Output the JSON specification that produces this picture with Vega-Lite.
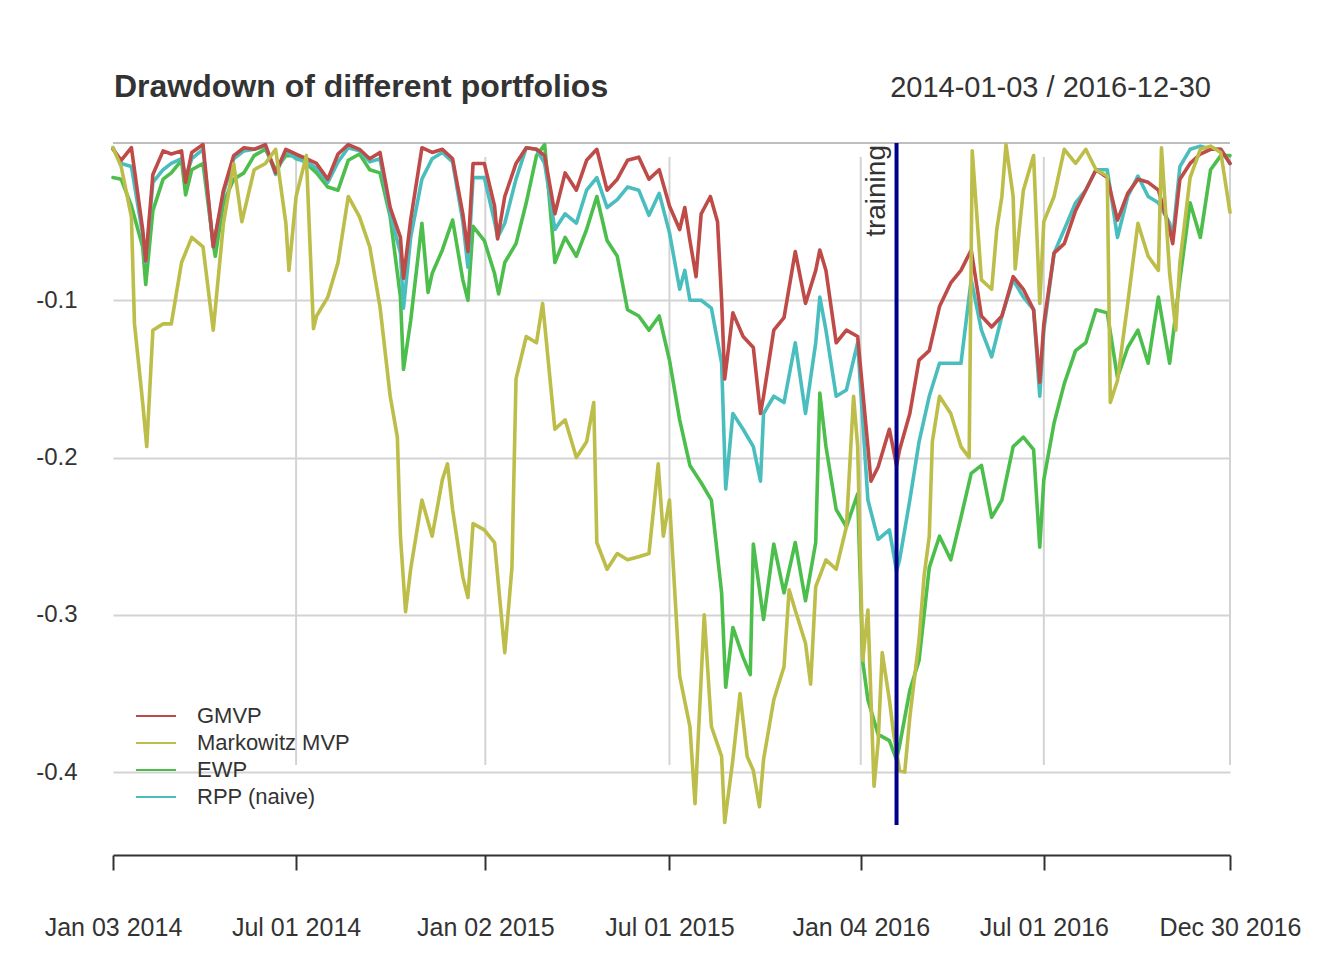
{
  "$schema": "https://vega.github.io/schema/vega-lite/v6.json",
  "width": 1117,
  "height": 682,
  "autosize": {"type": "none"},
  "padding": {"left": 113, "top": 143, "right": 114, "bottom": 135},
  "background": "white",
  "config": {"view": {"stroke": null}, "font": "Liberation Sans"},
  "layer": [
    {
      "data": {"values": [
        {"date": "2014-07-01"}, {"date": "2015-01-02"}, {"date": "2015-07-01"},
        {"date": "2016-01-04"}, {"date": "2016-07-01"}, {"date": "2016-12-30"}
      ]},
      "mark": {"type": "rule", "color": "#d3d3d3", "strokeWidth": 2},
      "encoding": {
        "x": {"field": "date", "type": "temporal", "title": null},
        "y": {"datum": -0.0089},
        "y2": {"datum": -0.3954}
      }
    },
    {
      "data": {"values": [{}]},
      "mark": {"type": "rule", "color": "#a9a9a9", "strokeWidth": 1.5},
      "encoding": {"y": {"datum": 0}}
    },
    {
      "data": {"values": [
        {"date":"2014-01-03","series":"EWP","value":-0.022},{"date":"2014-01-11","series":"EWP","value":-0.023},{"date":"2014-01-21","series":"EWP","value":-0.04},{"date":"2014-02-01","series":"EWP","value":-0.066},{"date":"2014-02-04","series":"EWP","value":-0.09},{"date":"2014-02-11","series":"EWP","value":-0.043},{"date":"2014-02-21","series":"EWP","value":-0.023},{"date":"2014-03-01","series":"EWP","value":-0.019},{"date":"2014-03-11","series":"EWP","value":-0.011},{"date":"2014-03-15","series":"EWP","value":-0.033},{"date":"2014-03-21","series":"EWP","value":-0.017},{"date":"2014-04-01","series":"EWP","value":-0.013},{"date":"2014-04-11","series":"EWP","value":-0.064},{"date":"2014-04-13","series":"EWP","value":-0.072},{"date":"2014-04-21","series":"EWP","value":-0.038},{"date":"2014-05-01","series":"EWP","value":-0.023},{"date":"2014-05-11","series":"EWP","value":-0.019},{"date":"2014-05-21","series":"EWP","value":-0.008},{"date":"2014-06-01","series":"EWP","value":-0.004},{"date":"2014-06-11","series":"EWP","value":-0.017},{"date":"2014-06-21","series":"EWP","value":-0.008},{"date":"2014-07-01","series":"EWP","value":-0.008},{"date":"2014-07-11","series":"EWP","value":-0.013},{"date":"2014-07-21","series":"EWP","value":-0.019},{"date":"2014-08-01","series":"EWP","value":-0.028},{"date":"2014-08-11","series":"EWP","value":-0.03},{"date":"2014-08-21","series":"EWP","value":-0.011},{"date":"2014-09-01","series":"EWP","value":-0.007},{"date":"2014-09-11","series":"EWP","value":-0.017},{"date":"2014-09-21","series":"EWP","value":-0.019},{"date":"2014-10-01","series":"EWP","value":-0.047},{"date":"2014-10-11","series":"EWP","value":-0.098},{"date":"2014-10-14","series":"EWP","value":-0.144},{"date":"2014-10-21","series":"EWP","value":-0.113},{"date":"2014-11-01","series":"EWP","value":-0.051},{"date":"2014-11-07","series":"EWP","value":-0.095},{"date":"2014-11-11","series":"EWP","value":-0.083},{"date":"2014-11-21","series":"EWP","value":-0.068},{"date":"2014-12-01","series":"EWP","value":-0.049},{"date":"2014-12-11","series":"EWP","value":-0.087},{"date":"2014-12-16","series":"EWP","value":-0.1},{"date":"2014-12-21","series":"EWP","value":-0.053},{"date":"2015-01-01","series":"EWP","value":-0.062},{"date":"2015-01-11","series":"EWP","value":-0.083},{"date":"2015-01-15","series":"EWP","value":-0.096},{"date":"2015-01-21","series":"EWP","value":-0.076},{"date":"2015-02-01","series":"EWP","value":-0.064},{"date":"2015-02-11","series":"EWP","value":-0.038},{"date":"2015-02-21","series":"EWP","value":-0.008},{"date":"2015-03-01","series":"EWP","value":-0.001},{"date":"2015-03-11","series":"EWP","value":-0.076},{"date":"2015-03-21","series":"EWP","value":-0.06},{"date":"2015-04-01","series":"EWP","value":-0.072},{"date":"2015-04-11","series":"EWP","value":-0.055},{"date":"2015-04-21","series":"EWP","value":-0.034},{"date":"2015-05-01","series":"EWP","value":-0.062},{"date":"2015-05-11","series":"EWP","value":-0.072},{"date":"2015-05-21","series":"EWP","value":-0.106},{"date":"2015-06-01","series":"EWP","value":-0.11},{"date":"2015-06-11","series":"EWP","value":-0.119},{"date":"2015-06-21","series":"EWP","value":-0.11},{"date":"2015-07-01","series":"EWP","value":-0.138},{"date":"2015-07-11","series":"EWP","value":-0.176},{"date":"2015-07-21","series":"EWP","value":-0.205},{"date":"2015-08-01","series":"EWP","value":-0.216},{"date":"2015-08-11","series":"EWP","value":-0.227},{"date":"2015-08-21","series":"EWP","value":-0.286},{"date":"2015-08-25","series":"EWP","value":-0.346},{"date":"2015-09-01","series":"EWP","value":-0.308},{"date":"2015-09-11","series":"EWP","value":-0.327},{"date":"2015-09-18","series":"EWP","value":-0.338},{"date":"2015-09-21","series":"EWP","value":-0.255},{"date":"2015-10-01","series":"EWP","value":-0.303},{"date":"2015-10-11","series":"EWP","value":-0.255},{"date":"2015-10-21","series":"EWP","value":-0.286},{"date":"2015-11-01","series":"EWP","value":-0.254},{"date":"2015-11-11","series":"EWP","value":-0.291},{"date":"2015-11-21","series":"EWP","value":-0.254},{"date":"2015-11-25","series":"EWP","value":-0.159},{"date":"2015-12-01","series":"EWP","value":-0.193},{"date":"2015-12-11","series":"EWP","value":-0.233},{"date":"2015-12-21","series":"EWP","value":-0.244},{"date":"2016-01-01","series":"EWP","value":-0.223},{"date":"2016-01-06","series":"EWP","value":-0.33},{"date":"2016-01-11","series":"EWP","value":-0.354},{"date":"2016-01-21","series":"EWP","value":-0.376},{"date":"2016-02-01","series":"EWP","value":-0.38},{"date":"2016-02-08","series":"EWP","value":-0.392},{"date":"2016-02-11","series":"EWP","value":-0.383},{"date":"2016-02-21","series":"EWP","value":-0.348},{"date":"2016-03-01","series":"EWP","value":-0.329},{"date":"2016-03-11","series":"EWP","value":-0.27},{"date":"2016-03-21","series":"EWP","value":-0.25},{"date":"2016-04-01","series":"EWP","value":-0.265},{"date":"2016-04-11","series":"EWP","value":-0.238},{"date":"2016-04-21","series":"EWP","value":-0.21},{"date":"2016-05-01","series":"EWP","value":-0.205},{"date":"2016-05-11","series":"EWP","value":-0.238},{"date":"2016-05-21","series":"EWP","value":-0.227},{"date":"2016-06-01","series":"EWP","value":-0.193},{"date":"2016-06-11","series":"EWP","value":-0.187},{"date":"2016-06-21","series":"EWP","value":-0.195},{"date":"2016-06-27","series":"EWP","value":-0.257},{"date":"2016-07-01","series":"EWP","value":-0.214},{"date":"2016-07-11","series":"EWP","value":-0.178},{"date":"2016-07-21","series":"EWP","value":-0.153},{"date":"2016-08-01","series":"EWP","value":-0.132},{"date":"2016-08-11","series":"EWP","value":-0.127},{"date":"2016-08-21","series":"EWP","value":-0.106},{"date":"2016-09-01","series":"EWP","value":-0.108},{"date":"2016-09-11","series":"EWP","value":-0.149},{"date":"2016-09-21","series":"EWP","value":-0.13},{"date":"2016-10-01","series":"EWP","value":-0.119},{"date":"2016-10-11","series":"EWP","value":-0.14},{"date":"2016-10-21","series":"EWP","value":-0.098},{"date":"2016-11-01","series":"EWP","value":-0.14},{"date":"2016-11-11","series":"EWP","value":-0.087},{"date":"2016-11-21","series":"EWP","value":-0.038},{"date":"2016-12-01","series":"EWP","value":-0.06},{"date":"2016-12-11","series":"EWP","value":-0.017},{"date":"2016-12-21","series":"EWP","value":-0.008},{"date":"2016-12-30","series":"EWP","value":-0.008},
        {"date":"2014-01-03","series":"RPP (naive)","value":-0.003},{"date":"2014-01-11","series":"RPP (naive)","value":-0.013},{"date":"2014-01-21","series":"RPP (naive)","value":-0.015},{"date":"2014-02-01","series":"RPP (naive)","value":-0.058},{"date":"2014-02-04","series":"RPP (naive)","value":-0.076},{"date":"2014-02-11","series":"RPP (naive)","value":-0.025},{"date":"2014-02-21","series":"RPP (naive)","value":-0.017},{"date":"2014-03-01","series":"RPP (naive)","value":-0.013},{"date":"2014-03-11","series":"RPP (naive)","value":-0.01},{"date":"2014-03-15","series":"RPP (naive)","value":-0.022},{"date":"2014-03-21","series":"RPP (naive)","value":-0.01},{"date":"2014-04-01","series":"RPP (naive)","value":-0.004},{"date":"2014-04-11","series":"RPP (naive)","value":-0.066},{"date":"2014-04-21","series":"RPP (naive)","value":-0.032},{"date":"2014-05-01","series":"RPP (naive)","value":-0.01},{"date":"2014-05-11","series":"RPP (naive)","value":-0.005},{"date":"2014-05-21","series":"RPP (naive)","value":-0.004},{"date":"2014-06-01","series":"RPP (naive)","value":-0.002},{"date":"2014-06-11","series":"RPP (naive)","value":-0.02},{"date":"2014-06-21","series":"RPP (naive)","value":-0.005},{"date":"2014-07-01","series":"RPP (naive)","value":-0.01},{"date":"2014-07-11","series":"RPP (naive)","value":-0.012},{"date":"2014-07-21","series":"RPP (naive)","value":-0.016},{"date":"2014-08-01","series":"RPP (naive)","value":-0.025},{"date":"2014-08-11","series":"RPP (naive)","value":-0.012},{"date":"2014-08-21","series":"RPP (naive)","value":-0.003},{"date":"2014-09-01","series":"RPP (naive)","value":-0.005},{"date":"2014-09-11","series":"RPP (naive)","value":-0.012},{"date":"2014-09-21","series":"RPP (naive)","value":-0.01},{"date":"2014-10-01","series":"RPP (naive)","value":-0.045},{"date":"2014-10-11","series":"RPP (naive)","value":-0.07},{"date":"2014-10-14","series":"RPP (naive)","value":-0.105},{"date":"2014-10-21","series":"RPP (naive)","value":-0.06},{"date":"2014-11-01","series":"RPP (naive)","value":-0.023},{"date":"2014-11-11","series":"RPP (naive)","value":-0.01},{"date":"2014-11-21","series":"RPP (naive)","value":-0.006},{"date":"2014-12-01","series":"RPP (naive)","value":-0.012},{"date":"2014-12-11","series":"RPP (naive)","value":-0.05},{"date":"2014-12-16","series":"RPP (naive)","value":-0.079},{"date":"2014-12-21","series":"RPP (naive)","value":-0.022},{"date":"2015-01-01","series":"RPP (naive)","value":-0.022},{"date":"2015-01-11","series":"RPP (naive)","value":-0.05},{"date":"2015-01-14","series":"RPP (naive)","value":-0.06},{"date":"2015-01-21","series":"RPP (naive)","value":-0.051},{"date":"2015-02-01","series":"RPP (naive)","value":-0.023},{"date":"2015-02-11","series":"RPP (naive)","value":-0.003},{"date":"2015-02-21","series":"RPP (naive)","value":-0.004},{"date":"2015-03-01","series":"RPP (naive)","value":-0.013},{"date":"2015-03-11","series":"RPP (naive)","value":-0.055},{"date":"2015-03-21","series":"RPP (naive)","value":-0.045},{"date":"2015-04-01","series":"RPP (naive)","value":-0.051},{"date":"2015-04-11","series":"RPP (naive)","value":-0.03},{"date":"2015-04-21","series":"RPP (naive)","value":-0.022},{"date":"2015-05-01","series":"RPP (naive)","value":-0.041},{"date":"2015-05-11","series":"RPP (naive)","value":-0.036},{"date":"2015-05-21","series":"RPP (naive)","value":-0.028},{"date":"2015-06-01","series":"RPP (naive)","value":-0.03},{"date":"2015-06-11","series":"RPP (naive)","value":-0.046},{"date":"2015-06-21","series":"RPP (naive)","value":-0.032},{"date":"2015-07-01","series":"RPP (naive)","value":-0.057},{"date":"2015-07-11","series":"RPP (naive)","value":-0.093},{"date":"2015-07-16","series":"RPP (naive)","value":-0.081},{"date":"2015-07-21","series":"RPP (naive)","value":-0.1},{"date":"2015-08-01","series":"RPP (naive)","value":-0.1},{"date":"2015-08-11","series":"RPP (naive)","value":-0.105},{"date":"2015-08-21","series":"RPP (naive)","value":-0.14},{"date":"2015-08-25","series":"RPP (naive)","value":-0.22},{"date":"2015-09-01","series":"RPP (naive)","value":-0.172},{"date":"2015-09-11","series":"RPP (naive)","value":-0.182},{"date":"2015-09-21","series":"RPP (naive)","value":-0.193},{"date":"2015-09-28","series":"RPP (naive)","value":-0.215},{"date":"2015-10-01","series":"RPP (naive)","value":-0.172},{"date":"2015-10-11","series":"RPP (naive)","value":-0.161},{"date":"2015-10-21","series":"RPP (naive)","value":-0.165},{"date":"2015-11-01","series":"RPP (naive)","value":-0.127},{"date":"2015-11-11","series":"RPP (naive)","value":-0.172},{"date":"2015-11-21","series":"RPP (naive)","value":-0.127},{"date":"2015-11-25","series":"RPP (naive)","value":-0.098},{"date":"2015-12-01","series":"RPP (naive)","value":-0.119},{"date":"2015-12-11","series":"RPP (naive)","value":-0.161},{"date":"2015-12-21","series":"RPP (naive)","value":-0.157},{"date":"2016-01-01","series":"RPP (naive)","value":-0.127},{"date":"2016-01-11","series":"RPP (naive)","value":-0.227},{"date":"2016-01-21","series":"RPP (naive)","value":-0.252},{"date":"2016-02-01","series":"RPP (naive)","value":-0.246},{"date":"2016-02-08","series":"RPP (naive)","value":-0.272},{"date":"2016-02-11","series":"RPP (naive)","value":-0.265},{"date":"2016-02-21","series":"RPP (naive)","value":-0.227},{"date":"2016-03-01","series":"RPP (naive)","value":-0.19},{"date":"2016-03-11","series":"RPP (naive)","value":-0.161},{"date":"2016-03-21","series":"RPP (naive)","value":-0.14},{"date":"2016-04-01","series":"RPP (naive)","value":-0.14},{"date":"2016-04-11","series":"RPP (naive)","value":-0.14},{"date":"2016-04-21","series":"RPP (naive)","value":-0.087},{"date":"2016-05-01","series":"RPP (naive)","value":-0.119},{"date":"2016-05-11","series":"RPP (naive)","value":-0.136},{"date":"2016-05-21","series":"RPP (naive)","value":-0.11},{"date":"2016-06-01","series":"RPP (naive)","value":-0.087},{"date":"2016-06-11","series":"RPP (naive)","value":-0.098},{"date":"2016-06-21","series":"RPP (naive)","value":-0.106},{"date":"2016-06-27","series":"RPP (naive)","value":-0.161},{"date":"2016-07-01","series":"RPP (naive)","value":-0.119},{"date":"2016-07-11","series":"RPP (naive)","value":-0.07},{"date":"2016-07-21","series":"RPP (naive)","value":-0.055},{"date":"2016-08-01","series":"RPP (naive)","value":-0.038},{"date":"2016-08-11","series":"RPP (naive)","value":-0.03},{"date":"2016-08-21","series":"RPP (naive)","value":-0.017},{"date":"2016-09-01","series":"RPP (naive)","value":-0.017},{"date":"2016-09-11","series":"RPP (naive)","value":-0.06},{"date":"2016-09-21","series":"RPP (naive)","value":-0.034},{"date":"2016-10-01","series":"RPP (naive)","value":-0.021},{"date":"2016-10-11","series":"RPP (naive)","value":-0.034},{"date":"2016-10-21","series":"RPP (naive)","value":-0.038},{"date":"2016-11-01","series":"RPP (naive)","value":-0.051},{"date":"2016-11-04","series":"RPP (naive)","value":-0.06},{"date":"2016-11-11","series":"RPP (naive)","value":-0.015},{"date":"2016-11-21","series":"RPP (naive)","value":-0.004},{"date":"2016-12-01","series":"RPP (naive)","value":-0.002},{"date":"2016-12-11","series":"RPP (naive)","value":-0.004},{"date":"2016-12-21","series":"RPP (naive)","value":-0.004},{"date":"2016-12-30","series":"RPP (naive)","value":-0.013},
        {"date":"2014-01-03","series":"GMVP","value":-0.004},{"date":"2014-01-11","series":"GMVP","value":-0.011},{"date":"2014-01-21","series":"GMVP","value":-0.003},{"date":"2014-02-01","series":"GMVP","value":-0.055},{"date":"2014-02-04","series":"GMVP","value":-0.075},{"date":"2014-02-11","series":"GMVP","value":-0.02},{"date":"2014-02-21","series":"GMVP","value":-0.005},{"date":"2014-03-01","series":"GMVP","value":-0.007},{"date":"2014-03-11","series":"GMVP","value":-0.005},{"date":"2014-03-15","series":"GMVP","value":-0.025},{"date":"2014-03-21","series":"GMVP","value":-0.006},{"date":"2014-04-01","series":"GMVP","value":-0.001},{"date":"2014-04-11","series":"GMVP","value":-0.066},{"date":"2014-04-21","series":"GMVP","value":-0.03},{"date":"2014-05-01","series":"GMVP","value":-0.008},{"date":"2014-05-11","series":"GMVP","value":-0.003},{"date":"2014-05-21","series":"GMVP","value":-0.004},{"date":"2014-06-01","series":"GMVP","value":-0.001},{"date":"2014-06-11","series":"GMVP","value":-0.019},{"date":"2014-06-21","series":"GMVP","value":-0.004},{"date":"2014-07-01","series":"GMVP","value":-0.007},{"date":"2014-07-11","series":"GMVP","value":-0.01},{"date":"2014-07-21","series":"GMVP","value":-0.013},{"date":"2014-08-01","series":"GMVP","value":-0.023},{"date":"2014-08-11","series":"GMVP","value":-0.007},{"date":"2014-08-21","series":"GMVP","value":-0.001},{"date":"2014-09-01","series":"GMVP","value":-0.004},{"date":"2014-09-11","series":"GMVP","value":-0.01},{"date":"2014-09-21","series":"GMVP","value":-0.006},{"date":"2014-10-01","series":"GMVP","value":-0.041},{"date":"2014-10-11","series":"GMVP","value":-0.06},{"date":"2014-10-14","series":"GMVP","value":-0.086},{"date":"2014-10-21","series":"GMVP","value":-0.049},{"date":"2014-11-01","series":"GMVP","value":-0.003},{"date":"2014-11-11","series":"GMVP","value":-0.006},{"date":"2014-11-21","series":"GMVP","value":-0.004},{"date":"2014-12-01","series":"GMVP","value":-0.01},{"date":"2014-12-11","series":"GMVP","value":-0.045},{"date":"2014-12-16","series":"GMVP","value":-0.069},{"date":"2014-12-21","series":"GMVP","value":-0.013},{"date":"2015-01-01","series":"GMVP","value":-0.013},{"date":"2015-01-11","series":"GMVP","value":-0.04},{"date":"2015-01-14","series":"GMVP","value":-0.061},{"date":"2015-01-21","series":"GMVP","value":-0.034},{"date":"2015-02-01","series":"GMVP","value":-0.013},{"date":"2015-02-11","series":"GMVP","value":-0.003},{"date":"2015-02-21","series":"GMVP","value":-0.004},{"date":"2015-03-01","series":"GMVP","value":-0.008},{"date":"2015-03-11","series":"GMVP","value":-0.045},{"date":"2015-03-21","series":"GMVP","value":-0.019},{"date":"2015-04-01","series":"GMVP","value":-0.03},{"date":"2015-04-11","series":"GMVP","value":-0.011},{"date":"2015-04-21","series":"GMVP","value":-0.004},{"date":"2015-05-01","series":"GMVP","value":-0.03},{"date":"2015-05-11","series":"GMVP","value":-0.023},{"date":"2015-05-21","series":"GMVP","value":-0.011},{"date":"2015-06-01","series":"GMVP","value":-0.009},{"date":"2015-06-11","series":"GMVP","value":-0.023},{"date":"2015-06-21","series":"GMVP","value":-0.017},{"date":"2015-07-01","series":"GMVP","value":-0.04},{"date":"2015-07-11","series":"GMVP","value":-0.055},{"date":"2015-07-16","series":"GMVP","value":-0.041},{"date":"2015-07-21","series":"GMVP","value":-0.062},{"date":"2015-07-27","series":"GMVP","value":-0.085},{"date":"2015-08-01","series":"GMVP","value":-0.045},{"date":"2015-08-10","series":"GMVP","value":-0.034},{"date":"2015-08-17","series":"GMVP","value":-0.05},{"date":"2015-08-21","series":"GMVP","value":-0.1},{"date":"2015-08-24","series":"GMVP","value":-0.15},{"date":"2015-09-01","series":"GMVP","value":-0.108},{"date":"2015-09-11","series":"GMVP","value":-0.123},{"date":"2015-09-21","series":"GMVP","value":-0.13},{"date":"2015-09-28","series":"GMVP","value":-0.172},{"date":"2015-10-01","series":"GMVP","value":-0.161},{"date":"2015-10-11","series":"GMVP","value":-0.119},{"date":"2015-10-21","series":"GMVP","value":-0.111},{"date":"2015-11-01","series":"GMVP","value":-0.069},{"date":"2015-11-11","series":"GMVP","value":-0.102},{"date":"2015-11-21","series":"GMVP","value":-0.081},{"date":"2015-11-25","series":"GMVP","value":-0.068},{"date":"2015-12-01","series":"GMVP","value":-0.081},{"date":"2015-12-11","series":"GMVP","value":-0.127},{"date":"2015-12-21","series":"GMVP","value":-0.119},{"date":"2016-01-01","series":"GMVP","value":-0.123},{"date":"2016-01-11","series":"GMVP","value":-0.193},{"date":"2016-01-14","series":"GMVP","value":-0.215},{"date":"2016-01-21","series":"GMVP","value":-0.206},{"date":"2016-02-01","series":"GMVP","value":-0.182},{"date":"2016-02-08","series":"GMVP","value":-0.205},{"date":"2016-02-11","series":"GMVP","value":-0.195},{"date":"2016-02-21","series":"GMVP","value":-0.172},{"date":"2016-03-01","series":"GMVP","value":-0.138},{"date":"2016-03-11","series":"GMVP","value":-0.132},{"date":"2016-03-21","series":"GMVP","value":-0.104},{"date":"2016-04-01","series":"GMVP","value":-0.089},{"date":"2016-04-11","series":"GMVP","value":-0.081},{"date":"2016-04-21","series":"GMVP","value":-0.068},{"date":"2016-05-01","series":"GMVP","value":-0.11},{"date":"2016-05-11","series":"GMVP","value":-0.117},{"date":"2016-05-21","series":"GMVP","value":-0.11},{"date":"2016-06-01","series":"GMVP","value":-0.085},{"date":"2016-06-11","series":"GMVP","value":-0.093},{"date":"2016-06-21","series":"GMVP","value":-0.106},{"date":"2016-06-27","series":"GMVP","value":-0.152},{"date":"2016-07-01","series":"GMVP","value":-0.115},{"date":"2016-07-11","series":"GMVP","value":-0.07},{"date":"2016-07-21","series":"GMVP","value":-0.064},{"date":"2016-08-01","series":"GMVP","value":-0.043},{"date":"2016-08-11","series":"GMVP","value":-0.03},{"date":"2016-08-21","series":"GMVP","value":-0.017},{"date":"2016-09-01","series":"GMVP","value":-0.022},{"date":"2016-09-11","series":"GMVP","value":-0.049},{"date":"2016-09-21","series":"GMVP","value":-0.032},{"date":"2016-10-01","series":"GMVP","value":-0.023},{"date":"2016-10-11","series":"GMVP","value":-0.025},{"date":"2016-10-21","series":"GMVP","value":-0.03},{"date":"2016-11-01","series":"GMVP","value":-0.055},{"date":"2016-11-04","series":"GMVP","value":-0.064},{"date":"2016-11-11","series":"GMVP","value":-0.023},{"date":"2016-11-21","series":"GMVP","value":-0.013},{"date":"2016-12-01","series":"GMVP","value":-0.007},{"date":"2016-12-11","series":"GMVP","value":-0.004},{"date":"2016-12-21","series":"GMVP","value":-0.004},{"date":"2016-12-30","series":"GMVP","value":-0.013},
        {"date":"2014-01-03","series":"Markowitz MVP","value":-0.003},{"date":"2014-01-11","series":"Markowitz MVP","value":-0.015},{"date":"2014-01-21","series":"Markowitz MVP","value":-0.047},{"date":"2014-01-24","series":"Markowitz MVP","value":-0.115},{"date":"2014-02-01","series":"Markowitz MVP","value":-0.165},{"date":"2014-02-05","series":"Markowitz MVP","value":-0.193},{"date":"2014-02-11","series":"Markowitz MVP","value":-0.119},{"date":"2014-02-21","series":"Markowitz MVP","value":-0.115},{"date":"2014-03-01","series":"Markowitz MVP","value":-0.115},{"date":"2014-03-11","series":"Markowitz MVP","value":-0.076},{"date":"2014-03-21","series":"Markowitz MVP","value":-0.06},{"date":"2014-04-01","series":"Markowitz MVP","value":-0.066},{"date":"2014-04-11","series":"Markowitz MVP","value":-0.119},{"date":"2014-04-21","series":"Markowitz MVP","value":-0.051},{"date":"2014-05-01","series":"Markowitz MVP","value":-0.013},{"date":"2014-05-09","series":"Markowitz MVP","value":-0.05},{"date":"2014-05-21","series":"Markowitz MVP","value":-0.017},{"date":"2014-06-01","series":"Markowitz MVP","value":-0.013},{"date":"2014-06-11","series":"Markowitz MVP","value":-0.004},{"date":"2014-06-21","series":"Markowitz MVP","value":-0.051},{"date":"2014-06-24","series":"Markowitz MVP","value":-0.081},{"date":"2014-07-01","series":"Markowitz MVP","value":-0.034},{"date":"2014-07-11","series":"Markowitz MVP","value":-0.008},{"date":"2014-07-18","series":"Markowitz MVP","value":-0.118},{"date":"2014-07-21","series":"Markowitz MVP","value":-0.11},{"date":"2014-08-01","series":"Markowitz MVP","value":-0.098},{"date":"2014-08-11","series":"Markowitz MVP","value":-0.076},{"date":"2014-08-21","series":"Markowitz MVP","value":-0.034},{"date":"2014-09-01","series":"Markowitz MVP","value":-0.047},{"date":"2014-09-11","series":"Markowitz MVP","value":-0.066},{"date":"2014-09-21","series":"Markowitz MVP","value":-0.104},{"date":"2014-10-01","series":"Markowitz MVP","value":-0.161},{"date":"2014-10-08","series":"Markowitz MVP","value":-0.187},{"date":"2014-10-11","series":"Markowitz MVP","value":-0.25},{"date":"2014-10-16","series":"Markowitz MVP","value":-0.298},{"date":"2014-10-21","series":"Markowitz MVP","value":-0.271},{"date":"2014-11-01","series":"Markowitz MVP","value":-0.227},{"date":"2014-11-11","series":"Markowitz MVP","value":-0.25},{"date":"2014-11-21","series":"Markowitz MVP","value":-0.214},{"date":"2014-11-26","series":"Markowitz MVP","value":-0.204},{"date":"2014-12-01","series":"Markowitz MVP","value":-0.233},{"date":"2014-12-11","series":"Markowitz MVP","value":-0.276},{"date":"2014-12-16","series":"Markowitz MVP","value":-0.289},{"date":"2014-12-21","series":"Markowitz MVP","value":-0.242},{"date":"2015-01-01","series":"Markowitz MVP","value":-0.246},{"date":"2015-01-11","series":"Markowitz MVP","value":-0.254},{"date":"2015-01-21","series":"Markowitz MVP","value":-0.324},{"date":"2015-01-28","series":"Markowitz MVP","value":-0.27},{"date":"2015-02-01","series":"Markowitz MVP","value":-0.15},{"date":"2015-02-11","series":"Markowitz MVP","value":-0.123},{"date":"2015-02-21","series":"Markowitz MVP","value":-0.127},{"date":"2015-02-27","series":"Markowitz MVP","value":-0.102},{"date":"2015-03-01","series":"Markowitz MVP","value":-0.115},{"date":"2015-03-11","series":"Markowitz MVP","value":-0.182},{"date":"2015-03-21","series":"Markowitz MVP","value":-0.176},{"date":"2015-04-01","series":"Markowitz MVP","value":-0.2},{"date":"2015-04-11","series":"Markowitz MVP","value":-0.19},{"date":"2015-04-18","series":"Markowitz MVP","value":-0.165},{"date":"2015-04-21","series":"Markowitz MVP","value":-0.254},{"date":"2015-05-01","series":"Markowitz MVP","value":-0.271},{"date":"2015-05-11","series":"Markowitz MVP","value":-0.261},{"date":"2015-05-21","series":"Markowitz MVP","value":-0.265},{"date":"2015-06-01","series":"Markowitz MVP","value":-0.263},{"date":"2015-06-11","series":"Markowitz MVP","value":-0.261},{"date":"2015-06-20","series":"Markowitz MVP","value":-0.204},{"date":"2015-06-25","series":"Markowitz MVP","value":-0.25},{"date":"2015-07-01","series":"Markowitz MVP","value":-0.227},{"date":"2015-07-11","series":"Markowitz MVP","value":-0.339},{"date":"2015-07-21","series":"Markowitz MVP","value":-0.371},{"date":"2015-07-26","series":"Markowitz MVP","value":-0.42},{"date":"2015-08-01","series":"Markowitz MVP","value":-0.34},{"date":"2015-08-04","series":"Markowitz MVP","value":-0.3},{"date":"2015-08-11","series":"Markowitz MVP","value":-0.371},{"date":"2015-08-21","series":"Markowitz MVP","value":-0.39},{"date":"2015-08-24","series":"Markowitz MVP","value":-0.432},{"date":"2015-09-01","series":"Markowitz MVP","value":-0.392},{"date":"2015-09-08","series":"Markowitz MVP","value":-0.35},{"date":"2015-09-15","series":"Markowitz MVP","value":-0.39},{"date":"2015-09-21","series":"Markowitz MVP","value":-0.399},{"date":"2015-09-27","series":"Markowitz MVP","value":-0.422},{"date":"2015-10-01","series":"Markowitz MVP","value":-0.392},{"date":"2015-10-11","series":"Markowitz MVP","value":-0.354},{"date":"2015-10-21","series":"Markowitz MVP","value":-0.333},{"date":"2015-10-26","series":"Markowitz MVP","value":-0.284},{"date":"2015-11-01","series":"Markowitz MVP","value":-0.297},{"date":"2015-11-11","series":"Markowitz MVP","value":-0.318},{"date":"2015-11-16","series":"Markowitz MVP","value":-0.344},{"date":"2015-11-21","series":"Markowitz MVP","value":-0.282},{"date":"2015-12-01","series":"Markowitz MVP","value":-0.265},{"date":"2015-12-11","series":"Markowitz MVP","value":-0.271},{"date":"2015-12-21","series":"Markowitz MVP","value":-0.244},{"date":"2015-12-28","series":"Markowitz MVP","value":-0.161},{"date":"2016-01-01","series":"Markowitz MVP","value":-0.193},{"date":"2016-01-06","series":"Markowitz MVP","value":-0.329},{"date":"2016-01-11","series":"Markowitz MVP","value":-0.297},{"date":"2016-01-17","series":"Markowitz MVP","value":-0.409},{"date":"2016-01-21","series":"Markowitz MVP","value":-0.381},{"date":"2016-01-25","series":"Markowitz MVP","value":-0.324},{"date":"2016-02-01","series":"Markowitz MVP","value":-0.354},{"date":"2016-02-05","series":"Markowitz MVP","value":-0.375},{"date":"2016-02-11","series":"Markowitz MVP","value":-0.399},{"date":"2016-02-16","series":"Markowitz MVP","value":-0.4},{"date":"2016-02-21","series":"Markowitz MVP","value":-0.365},{"date":"2016-03-01","series":"Markowitz MVP","value":-0.316},{"date":"2016-03-06","series":"Markowitz MVP","value":-0.275},{"date":"2016-03-11","series":"Markowitz MVP","value":-0.25},{"date":"2016-03-14","series":"Markowitz MVP","value":-0.19},{"date":"2016-03-21","series":"Markowitz MVP","value":-0.161},{"date":"2016-04-01","series":"Markowitz MVP","value":-0.172},{"date":"2016-04-11","series":"Markowitz MVP","value":-0.193},{"date":"2016-04-19","series":"Markowitz MVP","value":-0.2},{"date":"2016-04-22","series":"Markowitz MVP","value":-0.005},{"date":"2016-05-01","series":"Markowitz MVP","value":-0.087},{"date":"2016-05-11","series":"Markowitz MVP","value":-0.093},{"date":"2016-05-16","series":"Markowitz MVP","value":-0.055},{"date":"2016-05-21","series":"Markowitz MVP","value":-0.034},{"date":"2016-05-25","series":"Markowitz MVP","value":-0.001},{"date":"2016-06-01","series":"Markowitz MVP","value":-0.034},{"date":"2016-06-03","series":"Markowitz MVP","value":-0.08},{"date":"2016-06-11","series":"Markowitz MVP","value":-0.03},{"date":"2016-06-21","series":"Markowitz MVP","value":-0.008},{"date":"2016-06-27","series":"Markowitz MVP","value":-0.102},{"date":"2016-07-01","series":"Markowitz MVP","value":-0.05},{"date":"2016-07-11","series":"Markowitz MVP","value":-0.034},{"date":"2016-07-21","series":"Markowitz MVP","value":-0.004},{"date":"2016-08-01","series":"Markowitz MVP","value":-0.013},{"date":"2016-08-11","series":"Markowitz MVP","value":-0.004},{"date":"2016-08-21","series":"Markowitz MVP","value":-0.017},{"date":"2016-09-01","series":"Markowitz MVP","value":-0.021},{"date":"2016-09-04","series":"Markowitz MVP","value":-0.165},{"date":"2016-09-11","series":"Markowitz MVP","value":-0.151},{"date":"2016-09-21","series":"Markowitz MVP","value":-0.102},{"date":"2016-10-01","series":"Markowitz MVP","value":-0.051},{"date":"2016-10-11","series":"Markowitz MVP","value":-0.072},{"date":"2016-10-21","series":"Markowitz MVP","value":-0.081},{"date":"2016-10-24","series":"Markowitz MVP","value":-0.003},{"date":"2016-11-01","series":"Markowitz MVP","value":-0.083},{"date":"2016-11-07","series":"Markowitz MVP","value":-0.119},{"date":"2016-11-11","series":"Markowitz MVP","value":-0.076},{"date":"2016-11-21","series":"Markowitz MVP","value":-0.022},{"date":"2016-12-01","series":"Markowitz MVP","value":-0.004},{"date":"2016-12-11","series":"Markowitz MVP","value":-0.002},{"date":"2016-12-21","series":"Markowitz MVP","value":-0.006},{"date":"2016-12-30","series":"Markowitz MVP","value":-0.044}
      ]},
      "mark": {"type": "line", "strokeWidth": 3.6, "strokeJoin": "round", "strokeCap": "round"},
      "encoding": {
        "x": {
          "field": "date",
          "type": "temporal",
          "title": null,
          "scale": {
            "type": "utc",
            "nice": false,
            "domain": [
              {"year": 2014, "month": 1, "date": 3, "utc": true},
              {"year": 2016, "month": 12, "date": 30, "utc": true}
            ]
          },
          "axis": {
            "values": [
              {"year": 2014, "month": 1, "date": 3, "utc": true},
              {"year": 2014, "month": 7, "date": 1, "utc": true},
              {"year": 2015, "month": 1, "date": 2, "utc": true},
              {"year": 2015, "month": 7, "date": 1, "utc": true},
              {"year": 2016, "month": 1, "date": 4, "utc": true},
              {"year": 2016, "month": 7, "date": 1, "utc": true},
              {"year": 2016, "month": 12, "date": 30, "utc": true}
            ],
            "labelExpr": "utcFormat(datum.value, '%b %d %Y')",
            "grid": false,
            "offset": 30,
            "domainColor": "#333333",
            "domainWidth": 2,
            "tickColor": "#333333",
            "tickWidth": 2,
            "tickSize": 15,
            "labelFont": "Liberation Sans",
            "labelFontSize": 25,
            "labelColor": "#333333",
            "labelPadding": 45,
            "labelOverlap": false,
            "labelFlush": false,
            "labelBound": false
          }
        },
        "y": {
          "field": "value",
          "type": "quantitative",
          "title": null,
          "scale": {"domain": [-0.4336, 0], "nice": false, "zero": false},
          "axis": {
            "values": [-0.1, -0.2, -0.3, -0.4],
            "labelExpr": "'-' + format(abs(datum.value), '.1f')",
            "domain": false,
            "ticks": false,
            "grid": true,
            "gridColor": "#d3d3d3",
            "gridWidth": 2,
            "labelFont": "Liberation Sans",
            "labelFontSize": 24,
            "labelColor": "#333333",
            "labelPadding": 36
          }
        },
        "color": {
          "field": "series",
          "type": "nominal",
          "scale": {
            "domain": ["GMVP", "Markowitz MVP", "EWP", "RPP (naive)"],
            "range": ["#BE4B48", "#BDBD4A", "#4CBE4B", "#4ABEBE"]
          },
          "legend": {
            "orient": "none",
            "legendX": 32,
            "legendY": 562,
            "title": null,
            "padding": 0,
            "symbolType": "M-2,0H2",
            "symbolSize": 400,
            "symbolStrokeWidth": 2,
            "labelFont": "Liberation Sans",
            "labelFontSize": 22,
            "labelColor": "#333333",
            "labelOffset": 30,
            "rowPadding": 5
          }
        }
      }
    },
    {
      "data": {"values": [{}]},
      "mark": {"type": "rule", "color": "#00008B", "strokeWidth": 4},
      "encoding": {"x": {"datum": {"year": 2016, "month": 2, "date": 8, "utc": true}}}
    },
    {
      "data": {"values": [{}]},
      "mark": {"type": "text", "text": "training", "angle": 270, "align": "right", "baseline": "alphabetic", "dy": -12, "dx": -2, "fontSize": 28, "font": "Liberation Sans", "color": "#333333"},
      "encoding": {
        "x": {"datum": {"year": 2016, "month": 2, "date": 8, "utc": true}},
        "y": {"datum": 0}
      }
    },
    {
      "data": {"values": [{}]},
      "mark": {"type": "text", "text": "Drawdown of different portfolios", "align": "left", "baseline": "alphabetic", "dx": 1, "dy": -46, "fontSize": 32, "fontWeight": "bold", "font": "Liberation Sans", "color": "#333333"},
      "encoding": {
        "x": {"datum": {"year": 2014, "month": 1, "date": 3, "utc": true}},
        "y": {"datum": 0}
      }
    },
    {
      "data": {"values": [{}]},
      "mark": {"type": "text", "text": "2014-01-03 / 2016-12-30", "align": "right", "baseline": "alphabetic", "dx": -19, "dy": -46, "fontSize": 29, "font": "Liberation Sans", "color": "#333333"},
      "encoding": {
        "x": {"datum": {"year": 2016, "month": 12, "date": 30, "utc": true}},
        "y": {"datum": 0}
      }
    }
  ]
}
